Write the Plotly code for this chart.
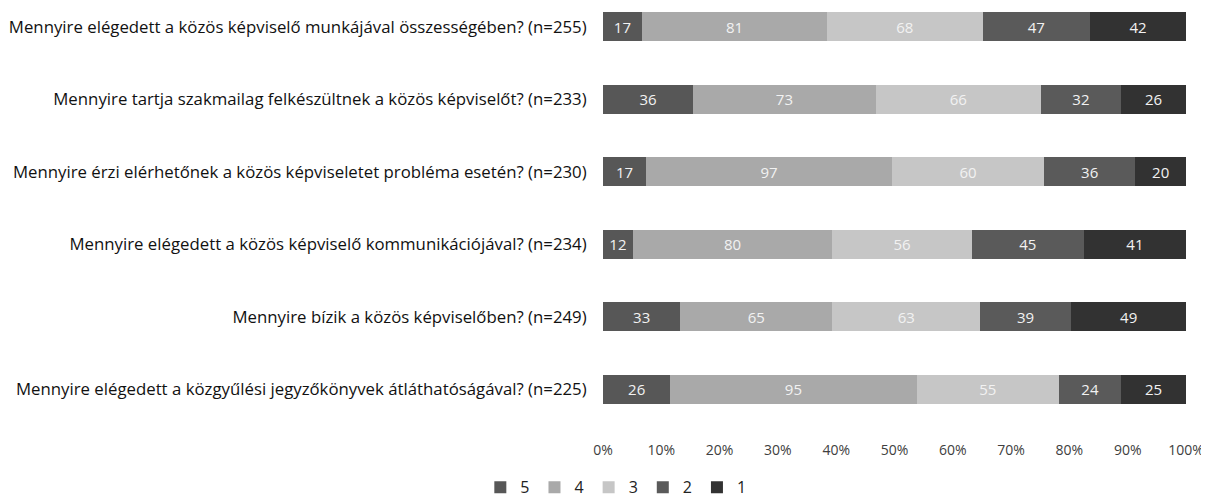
import plotly.graph_objects as go

questions = [
    "Mennyire elégedett a közös képviselő munkájával összességében? (n=255)",
    "Mennyire tartja szakmailag felkészültnek a közös képviselőt? (n=233)",
    "Mennyire érzi elérhetőnek a közös képviseletet probléma esetén? (n=230)",
    "Mennyire elégedett a közös képviselő kommunikációjával? (n=234)",
    "Mennyire bízik a közös képviselőben? (n=249)",
    "Mennyire elégedett a közgyűlési jegyzőkönyvek átláthatóságával? (n=225)",
]
series_names = ["5", "4", "3", "2", "1"]
v5 = [17, 36, 17, 12, 33, 26]
v4 = [81, 73, 97, 80, 65, 95]
v3 = [68, 66, 60, 56, 63, 55]
v2 = [47, 32, 36, 45, 39, 24]
v1 = [42, 26, 20, 41, 49, 25]
colors = ["#575757", "#a9a9a9", "#c6c6c6", "#5a5a5a", "#323232"]
tick_vals = [0, 10, 20, 30, 40, 50, 60, 70, 80, 90, 100]
tick_text = ["0%", "10%", "20%", "30%", "40%", "50%", "60%", "70%", "80%", "90%", "100%"]

font = "Open Sans"
totals = [a + b + c + d + e for a, b, c, d, e in zip(v5, v4, v3, v2, v1)]
fig = go.Figure()
for name, vals, col in zip(series_names, [v5, v4, v3, v2, v1], colors):
    pct = [v / t * 100 for v, t in zip(vals, totals)]
    fig.add_trace(go.Bar(
        y=questions, x=pct, name=name, orientation="h",
        marker=dict(color=col, line=dict(width=0)),
        text=[str(v) for v in vals], textposition="inside",
        insidetextanchor="middle",
        textfont=dict(color="#f2f2f2", size=15, family=font),
        width=0.4,
    ))

fig.update_layout(
    barmode="stack",
    width=1201, height=493,
    margin=dict(l=595, r=23, t=0, b=61, autoexpand=False),
    paper_bgcolor="white", plot_bgcolor="white",
    font=dict(family=font, color="#1a1a1a"),
    xaxis=dict(range=[0, 100], tickvals=tick_vals, ticktext=tick_text,
               showgrid=False, zeroline=False, showline=False, automargin=False,
               tickfont=dict(size=14, color="#404040"), ticks=""),
    yaxis=dict(categoryorder="array", categoryarray=questions,
               range=[5.70, -0.26], autorange=False, automargin=False,
               showgrid=False, zeroline=False, showline=False,
               ticks="outside", ticklen=12, tickcolor="rgba(0,0,0,0)",
               tickfont=dict(size=16.8, color="#111111")),
    legend=dict(orientation="h", x=0.022, xanchor="center", y=-0.07, yanchor="top",
                traceorder="normal", font=dict(size=16, color="#222222"),
                itemwidth=30),
    showlegend=True,
    uniformtext=dict(mode="show", minsize=10),
)
fig.write_html("out.html")
